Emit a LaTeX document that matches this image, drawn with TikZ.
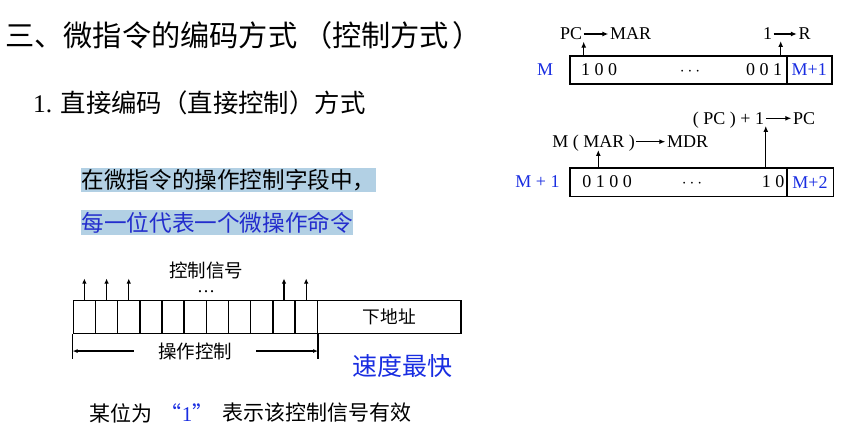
\documentclass[tikz,border=0pt]{standalone}
\usepackage{fontspec}
\setmainfont{Liberation Serif}
\newfontfamily\zhfont{Noto Sans CJK SC}
\usetikzlibrary{arrows.meta}
\definecolor{mblue}{RGB}{25,45,225}
\definecolor{hlblue}{RGB}{178,208,228}
\definecolor{lineblue}{RGB}{35,45,205}
\tikzset{
  txt/.style={inner sep=0pt, anchor=west},
  hl/.style={anchor=west, fill=hlblue, inner xsep=0.5pt, inner ysep=0pt, minimum height=24pt,
    font=\zhfont\fontsize{22.6}{24}\selectfont},
  reg/.style={draw, line width=1.6pt, inner sep=0pt, minimum height=28pt},
  cellbox/.style={draw, line width=1.5pt, inner sep=0pt, minimum width=22.18pt, minimum height=32.6pt},
  sig/.style={line width=1.3pt, -{Latex[length=6pt,width=5pt]}},
  lbl/.style={font=\fontsize{18}{20}\selectfont, inner sep=1.5pt, text height=11.9pt, text depth=0pt},
}
\begin{document}
\begin{tikzpicture}[x=1pt, y=-1pt]
\useasboundingbox (0,0) rectangle (858,438);

% headings
\node[txt, font=\zhfont\fontsize{29.2}{31}\selectfont] (title) at (5,35) {三、微指令的编码方式\kern6pt（控制方式\kern3pt）};
\node[txt, font=\fontsize{25.4}{28}\selectfont] (sub) at (33,103) {1. {\zhfont 直接编码（直接控制）方式}};

% highlighted lines
\node[hl] (hl1) at (81,180) {在微指令的操作控制字段中，};
\node[hl, text=lineblue] (hl2) at (81,222.5) {每一位代表一个微操作命令};

% control field
\foreach \i in {1,...,11}
  \node[cellbox] (c\i) at ({73.3+22.18*(\i-0.5)},317) {};
\node[cellbox, minimum width=143.7pt, font=\zhfont\fontsize{17.7}{19}\selectfont] (addr) at (389.15,317) {下地址};
\foreach \i in {1,2,3,10,11} {
  \coordinate (s\i) at ([yshift=21.4pt]c\i.north);
  \draw[sig, -{Latex[length=5pt,width=4.5pt]}] (c\i.north) -- (s\i);
}
\node[font=\zhfont\fontsize{18.5}{20}\selectfont] (ctrl) at (206,270) {控制信号};
\node[font=\fontsize{18}{20}\selectfont] (sdots) at (206,292) {\dots};

% bracket under the control bits
\coordinate (bl) at ([yshift=-25pt]c1.south west);
\coordinate (br) at ([yshift=-25pt]c11.south east);
\draw[line width=1.5pt] (c1.south west) -- (bl);
\draw[line width=1.5pt] (c11.south east) -- (br);
\draw[line width=1.2pt, {Latex[length=5pt,width=4pt]}-{Latex[length=5pt,width=4pt]}]
  ([yshift=8pt]bl) -- ([yshift=8pt]br)
  node[midway, fill=white, inner xsep=24pt, font=\zhfont\fontsize{18.5}{20}\selectfont] {操作控制};

\node[font=\zhfont\fontsize{25}{27}\selectfont, text=mblue] (fast) at (402.5,366) {速度最快};

% note
\node[txt, font=\zhfont\fontsize{21}{23}\selectfont] (note1) at (89,413) {某位为};
\node[font=\fontsize{21}{23}\selectfont, text=mblue] (bit) at (187,413) {{\zhfont “}1{\zhfont ”}};
\node[txt, font=\zhfont\fontsize{21}{23}\selectfont] (note2) at (222,413) {表示该控制信号有效};

% microinstruction at M
\node[reg, minimum width=216.7pt] (w1) at (678.35,70) {};
\node[reg, minimum width=45pt, lbl, inner sep=0pt, text=mblue] (n1) at (809.2,70) {M+1};
\node[lbl, text=mblue] (m1) at (545,70) {M};
\node[lbl] (b1a) at (599,70) {1 0 0};
\node[lbl] (b1d) at (690,70) {$\cdots$};
\node[lbl] (b1b) at (764,70) {0 0 1};
\node[lbl] (pc) at (571,34) {PC};
\node[lbl] (mar) at (630.5,34) {MAR};
\draw[sig] (pc) -- (mar);
\draw[sig] (pc.south east |- w1.north) -- (pc.south east);
\node[lbl] (one) at (767.5,34) {1};
\node[lbl] (r) at (804.5,34) {R};
\draw[sig] (one) -- (r);
\coordinate (rup) at (780.7,41);
\draw[sig] (rup |- w1.north) -- (rup);

% microinstruction at M+1
\node[reg, minimum width=216.7pt, minimum height=28.4pt] (w2) at (678.35,182.5) {};
\node[reg, minimum width=46.6pt, minimum height=28.4pt, lbl, inner sep=0pt, text=mblue] (n2) at (810,182.5) {M+2};
\node[lbl, text=mblue] (m2) at (537.5,182) {M + 1};
\node[lbl] (b2a) at (607,182) {0 1 0 0};
\node[lbl] (b2d) at (692,182) {$\cdots$};
\node[lbl] (b2b) at (773,182) {1 0};
\node[lbl] (mm) at (593.5,141.7) {M ( MAR )};
\node[lbl] (mdr) at (687.5,141.7) {MDR};
\draw[sig] (mm) -- (mdr);
\coordinate (mup) at (598.3,150);
\draw[sig] (mup |- w2.north) -- (mup);
\node[lbl] (pcp) at (728.5,118.3) {( PC ) + 1};
\node[lbl] (pc2) at (804,118.3) {PC};
\draw[sig] (pcp) -- (pc2);
\draw[sig] (pcp.south east |- w2.north) -- (pcp.south east);
\end{tikzpicture}
\end{document}
